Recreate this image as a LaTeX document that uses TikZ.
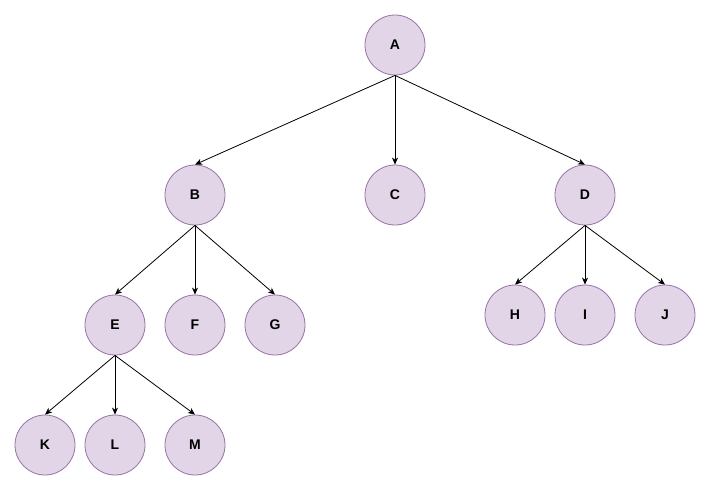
\documentclass[tikz,border=0pt]{standalone}
\usepackage{fontspec}
\setmainfont{Liberation Sans}
\usetikzlibrary{arrows.meta}
\definecolor{nfill}{HTML}{E1D5E7}
\definecolor{nline}{HTML}{9673A6}
\begin{document}
\begin{tikzpicture}[x=1pt,y=-1pt,
  tnode/.style={circle,draw=nline,fill=nfill,line width=0.8pt,minimum size=60pt,inner sep=0pt,font=\bfseries\fontsize{14}{16}\selectfont},
  edge/.style={-{Stealth[length=7pt,width=6pt,inset=2pt]},line width=0.8pt,black}]
\useasboundingbox (0,0) rectangle (711,491);
\node[tnode] (A) at (395,45) {A};
\node[tnode] (B) at (195,195) {B};
\node[tnode] (C) at (395,195) {C};
\node[tnode] (D) at (585,195) {D};
\node[tnode] (E) at (115,325) {E};
\node[tnode] (F) at (195,325) {F};
\node[tnode] (G) at (275,325) {G};
\node[tnode] (H) at (515,315) {H};
\node[tnode] (I) at (585,315) {I};
\node[tnode] (J) at (665,315) {J};
\node[tnode] (K) at (45,445) {K};
\node[tnode] (L) at (115,445) {L};
\node[tnode] (M) at (195,445) {M};
\foreach \p/\c in {A/B,A/C,A/D,B/E,B/F,B/G,D/H,D/I,D/J,E/K,E/L,E/M}
  \draw[edge] (\p.south) -- (\c.north);
\end{tikzpicture}
\end{document}
